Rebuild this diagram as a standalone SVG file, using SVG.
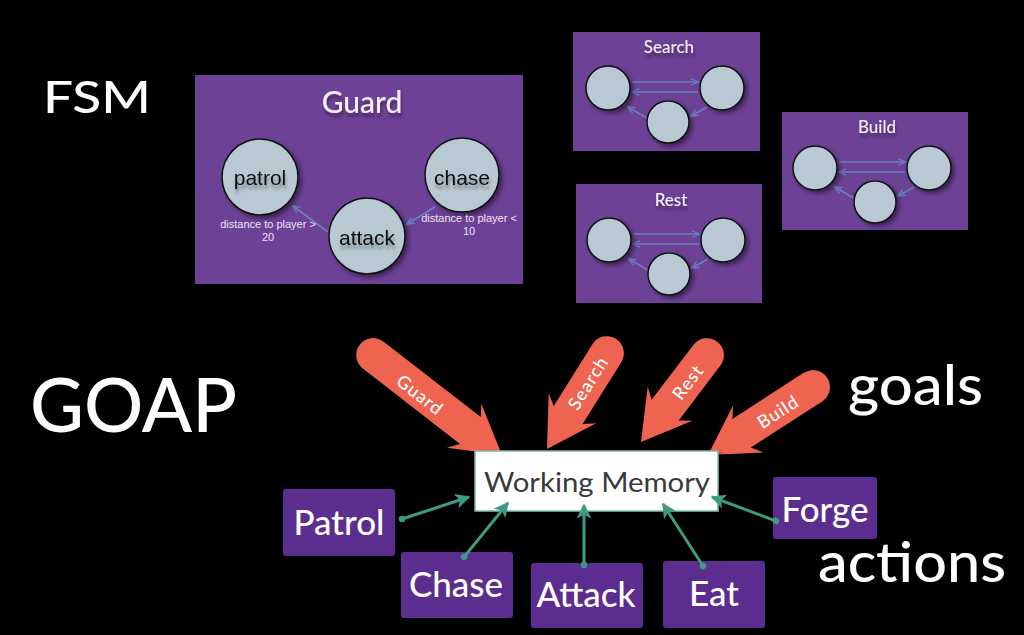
<svg xmlns="http://www.w3.org/2000/svg" width="1024" height="635" viewBox="0 0 1024 635">
  <style>
    .head { font-family: Lato, "Open Sans", sans-serif; fill: #ffffff; font-weight: 500; }
    .fsmbox { fill: #6d4196; }
    .fsmtitle { font-family: Lato, "Open Sans", sans-serif; fill: #f4eef8; font-weight: 500; text-anchor: middle; }
    .state { fill: #b8c9d3; stroke: #111111; stroke-width: 1.5; }
    .statetxt { font-family: "Liberation Sans", Arial, sans-serif; font-size: 21px; fill: #111111; text-anchor: middle; }
    .cond { font-family: "Liberation Sans", Arial, sans-serif; font-size: 11px; fill: #ece4f4; text-anchor: middle; }
    .fsmline { stroke: #6a80bf; stroke-width: 1.6; fill: none; }
    .goal { fill: #ef6450; }
    .goaltxt { font-family: Lato, "Open Sans", sans-serif; font-size: 18px; font-weight: 500; fill: #ffffff; text-anchor: middle; letter-spacing: 1px; }
    .action { fill: #5b2d8e; }
    .acttxt { font-family: Lato, "Open Sans", sans-serif; font-size: 35px; fill: #ffffff; text-anchor: middle; font-weight: 500; }
    .conn { stroke: #3f9a84; stroke-width: 3; fill: none; marker-start: url(#dot); marker-end: url(#tealHead); }
  </style>
  <defs>
    <filter id="sh" x="-20%" y="-20%" width="150%" height="150%">
      <feDropShadow dx="3" dy="3" stdDeviation="2" flood-color="#000000" flood-opacity="0.45"/>
    </filter>
    <filter id="tsh" x="-10%" y="-10%" width="130%" height="160%">
      <feDropShadow dx="1" dy="4" stdDeviation="1.5" flood-color="#000000" flood-opacity="0.35"/>
    </filter>
    <marker id="tealHead" viewBox="0 0 10 10" refX="9" refY="5" markerWidth="5" markerHeight="5" orient="auto" markerUnits="strokeWidth">
      <path d="M0,0 L10,5 L0,10 L2.5,5 Z" fill="#3f9a84"/>
    </marker>
    <marker id="dot" viewBox="0 0 10 10" refX="5" refY="5" markerWidth="2.2" markerHeight="2.2" orient="auto" markerUnits="strokeWidth">
      <circle cx="5" cy="5" r="5" fill="#3f9a84"/>
    </marker>
    <marker id="blueHead" viewBox="0 0 10 10" refX="9" refY="5" markerWidth="5" markerHeight="5" orient="auto" markerUnits="strokeWidth">
      <path d="M0,1 L10,5 L0,9" fill="none" stroke="#6a80bf" stroke-width="1.6"/>
    </marker>
    <g id="mini">
      <line class="fsmline" x1="24" y1="-6" x2="90" y2="-6" marker-end="url(#blueHead)"/>
      <line class="fsmline" x1="90" y1="4" x2="24" y2="4" marker-end="url(#blueHead)"/>
      <line class="fsmline" x1="42" y1="32" x2="20" y2="19" marker-end="url(#blueHead)"/>
      <line class="fsmline" x1="99" y1="19" x2="83" y2="28" marker-end="url(#blueHead)"/>
      <circle class="state" cx="0" cy="0" r="22" filter="url(#sh)"/>
      <circle class="state" cx="114" cy="0" r="22" filter="url(#sh)"/>
      <circle class="state" cx="60" cy="34" r="21" filter="url(#sh)"/>
    </g>
  </defs>

  <rect x="0" y="0" width="1024" height="635" fill="#000000"/>

  <!-- headings -->
  <text class="head" x="43" y="113" font-size="45" textLength="108" lengthAdjust="spacingAndGlyphs">FSM</text>
  <text class="head" x="30" y="432" font-size="75" textLength="207" lengthAdjust="spacingAndGlyphs">GOAP</text>
  <text class="head" x="848" y="405" font-size="56" textLength="135" lengthAdjust="spacingAndGlyphs">goals</text>
  <text class="head" x="818" y="582" font-size="56" textLength="188" lengthAdjust="spacingAndGlyphs">actions</text>

  <!-- FSM: Guard -->
  <g id="fsm-guard">
    <rect class="fsmbox" x="195" y="75" width="328" height="209"/>
    <text class="fsmtitle" x="362" y="113" font-size="30" filter="url(#tsh)">Guard</text>
    <g id="guard-edges">
      <line class="fsmline" x1="328" y1="232" x2="293" y2="206" marker-end="url(#blueHead)"/>
      <line class="fsmline" x1="435" y1="207" x2="407" y2="224" marker-end="url(#blueHead)"/>
    </g>
    <g id="state-patrol">
      <circle class="state" cx="260" cy="177" r="38" filter="url(#sh)"/>
      <text class="statetxt" x="260" y="185" filter="url(#tsh)">patrol</text>
    </g>
    <g id="state-chase">
      <circle class="state" cx="462" cy="175" r="37" filter="url(#sh)"/>
      <text class="statetxt" x="462" y="185" filter="url(#tsh)">chase</text>
    </g>
    <g id="state-attack">
      <circle class="state" cx="367" cy="236" r="38" filter="url(#sh)"/>
      <text class="statetxt" x="367" y="245" filter="url(#tsh)">attack</text>
    </g>
    <text class="cond" x="268" y="228">distance to player &gt;</text>
    <text class="cond" x="268" y="241">20</text>
    <text class="cond" x="469" y="222">distance to player &lt;</text>
    <text class="cond" x="469" y="235">10</text>
  </g>

  <!-- FSM: Search -->
  <g id="fsm-search">
    <rect class="fsmbox" x="573" y="32" width="187" height="119"/>
    <text class="fsmtitle" x="669" y="53" font-size="17" filter="url(#tsh)">Search</text>
    <use href="#mini" x="608" y="88"/>
  </g>

  <!-- FSM: Rest -->
  <g id="fsm-rest">
    <rect class="fsmbox" x="576" y="184" width="186" height="119"/>
    <text class="fsmtitle" x="671" y="206" font-size="17" filter="url(#tsh)">Rest</text>
    <use href="#mini" x="609" y="240"/>
  </g>

  <!-- FSM: Build -->
  <g id="fsm-build">
    <rect class="fsmbox" x="782" y="112" width="186" height="118"/>
    <text class="fsmtitle" x="877" y="133" font-size="17" filter="url(#tsh)">Build</text>
    <use href="#mini" x="815" y="168"/>
  </g>

  <!-- Goals (orange arrows) -->
  <g id="goal-guard">
    <path class="goal" transform="translate(502,455) rotate(37.8)" d="M0,0 L-48,-28 L-40,-17 L-163,-17 A17,17 0 0 0 -163,17 L-40,17 L-48,28 Z"/>
    <text class="goaltxt" transform="translate(420,395) rotate(37.8)" dy="0.35em">Guard</text>
  </g>
  <g id="goal-search">
    <path class="goal" transform="translate(547,449) rotate(122)" d="M0,0 L-48,-28 L-40,-17 L-113,-17 A17,17 0 0 0 -113,17 L-40,17 L-48,28 Z"/>
    <text class="goaltxt" transform="translate(588,383) rotate(-58)" dy="0.35em">Search</text>
  </g>
  <g id="goal-rest">
    <path class="goal" transform="translate(641,442) rotate(127.2)" d="M0,0 L-48,-28 L-40,-17 L-109,-17 A17,17 0 0 0 -109,17 L-40,17 L-48,28 Z"/>
    <text class="goaltxt" transform="translate(688,382) rotate(-52.8)" dy="0.35em">Rest</text>
  </g>
  <g id="goal-build">
    <path class="goal" transform="translate(708,455) rotate(147.1)" d="M0,0 L-48,-28 L-40,-17 L-125,-17 A17,17 0 0 0 -125,17 L-40,17 L-48,28 Z"/>
    <text class="goaltxt" transform="translate(778,412) rotate(-32.9)" dy="0.35em">Build</text>
  </g>

  <!-- Working Memory -->
  <g id="working-memory">
    <rect x="475" y="451" width="243" height="60" fill="#ffffff" stroke="#7fb6a6" stroke-width="1.5" filter="url(#sh)"/>
    <text x="597" y="492" font-family="Lato, 'Open Sans', sans-serif" font-size="26" fill="#3a3a3a" text-anchor="middle" textLength="226" lengthAdjust="spacingAndGlyphs">Working Memory</text>
  </g>

  <!-- Actions -->
  <g id="action-patrol">
    <rect class="action" x="283" y="489" width="112" height="67" rx="3"/>
    <text class="acttxt" x="339" y="535">Patrol</text>
  </g>
  <g id="action-chase">
    <rect class="action" x="401" y="552" width="112" height="66" rx="3"/>
    <text class="acttxt" x="456" y="597">Chase</text>
  </g>
  <g id="action-attack">
    <rect class="action" x="531" y="563" width="112" height="65" rx="3"/>
    <text class="acttxt" x="586" y="607">Attack</text>
  </g>
  <g id="action-eat">
    <rect class="action" x="663" y="561" width="102" height="67" rx="3"/>
    <text class="acttxt" x="714" y="606">Eat</text>
  </g>
  <g id="action-forge">
    <rect class="action" x="773" y="477" width="104" height="62" rx="3"/>
    <text class="acttxt" x="825" y="522">Forge</text>
  </g>

  <!-- Connectors -->
  <g id="connectors">
    <line class="conn" x1="402" y1="519" x2="469" y2="497"/>
    <line class="conn" x1="464" y1="557" x2="508" y2="503"/>
    <line class="conn" x1="584" y1="565" x2="584" y2="505"/>
    <line class="conn" x1="703" y1="566" x2="663" y2="504"/>
    <line class="conn" x1="776" y1="521" x2="712" y2="497"/>
  </g>
</svg>
